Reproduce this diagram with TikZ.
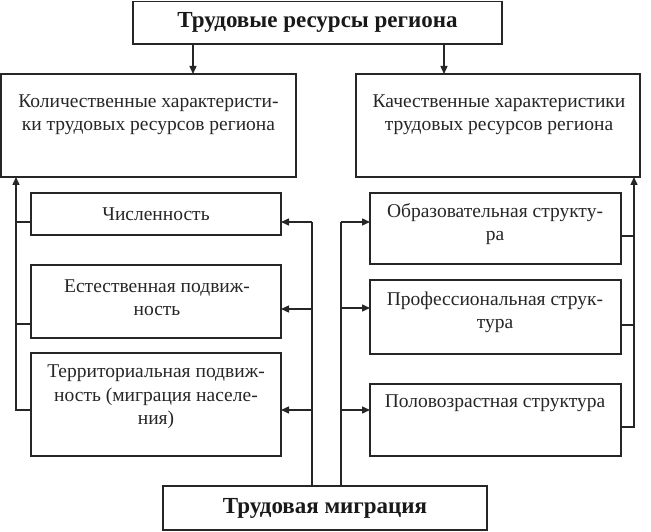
\documentclass[tikz,border=0pt]{standalone}
\usepackage{fontspec}
\setmainfont{Liberation Serif}
\usetikzlibrary{arrows.meta,calc}
\begin{document}
\begin{tikzpicture}[x=1pt,y=-1pt,
  box/.style={draw=black!85, line width=1.4pt, anchor=north west, inner sep=0pt, outer sep=0pt},
  txt/.style={align=center, font=\fontsize{19.5}{23.5}\selectfont, inner sep=0pt, text=black!85},
  ttl/.style={font=\fontsize{23}{27}\selectfont\bfseries, text=black!90},
  ln/.style={draw=black!85, line width=1.4pt},
  arr/.style={draw=black!85, line width=1.4pt, -{Triangle[length=8pt,width=7pt]}}]
\useasboundingbox (0,0) rectangle (651,532);
% boxes
\node[box, ttl, minimum width=369pt, minimum height=42.5pt] (top) at (133,1.5) {Трудовые ресурсы региона};
\node[box, minimum width=295pt, minimum height=103pt] (kol) at (1,74) {};
\node[box, minimum width=284pt, minimum height=103pt] (kach) at (356,74) {};
\node[box, txt, minimum width=250pt, minimum height=42pt] (chis) at (31,193) {Численность};
\node[box, minimum width=250pt, minimum height=73pt] (est) at (31,265) {};
\node[box, minimum width=250pt, minimum height=103pt] (ter) at (31,353) {};
\node[box, minimum width=251pt, minimum height=71pt] (obr) at (370,193) {};
\node[box, minimum width=251pt, minimum height=74pt] (prof) at (370,280) {};
\node[box, minimum width=251pt, minimum height=72pt] (polo) at (370,384) {};
\node[box, ttl, minimum width=324pt, minimum height=44pt] (bot) at (163,486) {Трудовая миграция};
% texts
\node[txt] (kolT) at (148.5,114.5) {Количественные характеристи-\\ки трудовых ресурсов региона};
\node[txt] (kachT) at (499,114.5) {Качественные характеристики\\трудовых ресурсов региона};
\node[txt] (estT) at (157,297.5) {Естественная подвиж-\\ность};
\node[txt] (terT) at (156,397) {Территориальная подвиж-\\ность (миграция населе-\\ния)};
\node[txt] (obrT) at (495,224) {Образовательная структу-\\ра};
\node[txt] (profT) at (495,312.5) {Профессиональная струк-\\тура};
\node[txt] (poloT) at (495,403) {Половозрастная структура};
% top arrows
\draw[arr] ($(top.south west)+(60,0)$) -- ($(kol.north west)+(192,0)$);
\draw[arr] ($(top.south east)+(-58,0)$) -- ($(kach.north west)+(88,0)$);
% left collector
\draw[arr] ($(ter.north west)+(0,57)$) -| ($(kol.south west)+(15,0)$);
\draw[ln] ($(chis.north west)+(0,29)$) -- ++(-15,0);
\draw[ln] ($(est.north west)+(0,59)$) -- ++(-15,0);
% right collector
\draw[arr] ($(polo.north east)+(0,43)$) -| ($(kach.south east)+(-6,0)$);
\draw[ln] ($(obr.north east)+(0,43)$) -- ++(13,0);
\draw[ln] ($(prof.north east)+(0,45)$) -- ++(13,0);
% migration lines
\draw[ln] ($(bot.north west)+(149,0)$) -- ($(bot.north west)+(149,-264)$);
\draw[arr] ($(chis.north east)+(31,29)$) -- ($(chis.north east)+(0,29)$);
\draw[arr] ($(est.north east)+(31,44)$) -- ($(est.north east)+(0,44)$);
\draw[arr] ($(ter.north east)+(31,57)$) -- ($(ter.north east)+(0,57)$);
\draw[ln] ($(bot.north west)+(178,0)$) -- ($(bot.north west)+(178,-264)$);
\draw[arr] ($(obr.north west)+(-29,29)$) -- ($(obr.north west)+(0,29)$);
\draw[arr] ($(prof.north west)+(-29,28)$) -- ($(prof.north west)+(0,28)$);
\draw[arr] ($(polo.north west)+(-29,26)$) -- ($(polo.north west)+(0,26)$);
\end{tikzpicture}
\end{document}
